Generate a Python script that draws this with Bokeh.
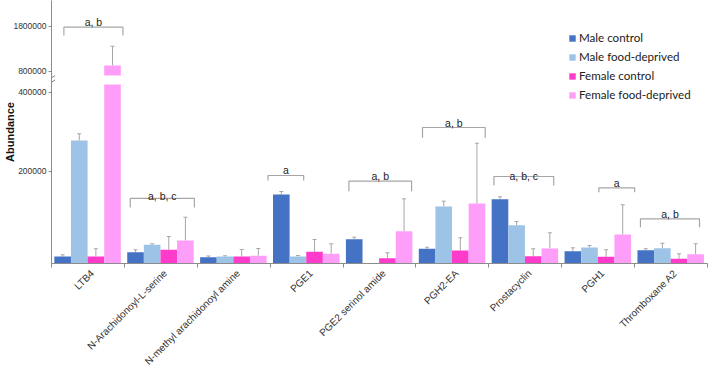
import numpy as np
from math import pi
from bokeh.plotting import figure
from bokeh.models import (ColumnDataSource, FixedTicker, Whisker, TeeHead, Legend,
                          LegendItem, Range1d, Arrow)
from bokeh.core.properties import value
from bokeh.embed import file_html
from bokeh.resources import INLINE

# ---------------- data ----------------
categories = ["LTB4", "N-Arachidonoyl-L-serine", "N-methyl arachidonoyl amine", "PGE1",
              "PGE2 serinol amide", "PGH2-EA", "Prostacyclin", "PGH1", "Thromboxane A2"]
series = ["Male control", "Male food-deprived", "Female control", "Female food-deprived"]

male_control = [15200, 24500, 13700, 149500, 52700, 31900, 139300, 26700, 28800]
male_control_err = [3700, 5200, 2600, 6500, 4300, 3400, 5200, 7300, 3100]
male_fd = [277700, 40500, 15200, 15200, 0, 123500, 83000, 34700, 33200]
male_fd_err = [17000, 2200, 1500, 2100, 0, 11500, 8000, 4300, 10800]
female_control = [15200, 29700, 15200, 25400, 11500, 28200, 15800, 14500, 10200]
female_control_err = [16700, 28800, 15100, 26600, 11700, 27500, 16100, 15200, 10800]
female_fd = [927000, 49800, 16700, 21000, 70000, 130000, 32500, 62800, 20200]
female_fd_err = [428000, 50500, 15800, 21700, 70200, 140900, 34000, 64400, 22500]

y_tick_values = [200000, 400000, 800000, 1800000]
y_tick_labels = ["200000", "400000", "800000", "1800000"]

# significance brackets: group, label, height (abundance)
bracket_groups = [0, 1, 3, 4, 5, 6, 7, 8]
bracket_labels = ["a, b", "a, b, c", "a", "a, b", "a, b", "a, b, c", "a", "a, b"]
bracket_heights = [1777800, 140900, 190700, 178300, 310600, 188500, 164000, 96900]

# ---------------- layout / style ----------------
bracket_span = [(0.17, 0.98), (0.08, 0.96), (-0.03, 0.46), (0.08, 0.94), (0.09, 0.95),
                (0.07, 0.89), (0.51, 1.0), (0.08, 0.89)]
bracket_leg = [8.3, 9, 5, 10, 10.3, 9, 4.4, 8.4]
bracket_text_off = [-5, -2, -5, -5, -5, -1, -5, -5]

colors = ["#4472C4", "#9DC3E6", "#FF3BCB", "#FF9EF8"]
values_all = [male_control, male_fd, female_control, female_fd]
errs_all = [male_control_err, male_fd_err, female_control_err, female_fd_err]

# broken-axis transform (value -> display units)
LOWER_V = [0, 200000, 400000]
LOWER_D = [0, 92.3, 171.3]
LOWER_SLOPE = 79 / 200000
LOWER_CAP_D = 179.0
UPPER_START_D = 188.0
UPPER_REF_V, UPPER_REF_D, UPPER_SLOPE = 800000, 192.3, 45 / 1e6
BREAK_V = 400000 + (LOWER_CAP_D - 171.3) / LOWER_SLOPE


def disp(v):
    if v <= 400000:
        return float(np.interp(v, LOWER_V, LOWER_D))
    if v <= BREAK_V:
        return 171.3 + (v - 400000) * LOWER_SLOPE
    return UPPER_REF_D + (v - UPPER_REF_V) * UPPER_SLOPE


n = len(categories)
BAR_W = 0.228
CENTER = 0.495
LABEL_POS = 0.56
AXIS_GREY = "#8C8C8C"
ERR_GREY = "#A6A6A6"

p = figure(width=708, height=374, x_range=Range1d(0, n), y_range=Range1d(0, 263),
           output_backend="svg", toolbar_location=None,
           min_border_left=51, min_border_right=1, min_border_top=0, min_border_bottom=111)
p.outline_line_color = None
p.xgrid.visible = False
p.ygrid.visible = False
p.background_fill_color = "white"

legend_items = []
for j, (vals, errs, col, name) in enumerate(zip(values_all, errs_all, colors, series)):
    xs = [i + CENTER + (j - 1.5) * BAR_W for i in range(n)]
    low_top = [min(disp(v), LOWER_CAP_D) for v in vals]
    src = ColumnDataSource(dict(x=xs, top=low_top))
    r = p.vbar(x="x", top="top", bottom=0, width=BAR_W, source=src,
               fill_color=col, line_color=None)
    legend_items.append(LegendItem(label=name, renderers=[r]))
    # upper pieces for values beyond the break
    ux = [x for x, v in zip(xs, vals) if v > BREAK_V]
    ut = [disp(v) for v in vals if v > BREAK_V]
    if ux:
        p.vbar(x=ux, top=ut, bottom=UPPER_START_D, width=BAR_W,
               fill_color=col, line_color=None)
    # error bars
    ex = [x for x, v in zip(xs, vals) if v > 0]
    el = [disp(v) for v in vals if v > 0]
    eu = [disp(v + e) for v, e in zip(vals, errs) if v > 0]
    esrc = ColumnDataSource(dict(x=ex, lower=el, upper=eu))
    w = Whisker(source=esrc, base="x", lower="lower", upper="upper", dimension="height",
                line_color=ERR_GREY, line_width=1,
                upper_head=TeeHead(size=4, line_color=ERR_GREY, line_width=1),
                lower_head=None)
    p.add_layout(w)

# brackets
bxs, bys, tx, ty = [], [], [], []
for g, h, (f0, f1), leg in zip(bracket_groups, bracket_heights, bracket_span, bracket_leg):
    d = disp(h)
    x0, x1 = g + f0, g + f1
    bxs.append([x0, x0, x1, x1])
    bys.append([d - leg, d, d, d - leg])
    tx.append((x0 + x1) / 2)
    ty.append(d)
p.multi_line(xs=bxs, ys=bys, line_color=ERR_GREY, line_width=1.2)
p.text(x=tx, y=ty, text=bracket_labels, y_offset=bracket_text_off,
       text_align="center", text_baseline="alphabetic",
       text_font=value("Liberation Sans"), text_font_size="10.5px", text_color="#222222")

# axis break marks
bd = (LOWER_CAP_D + UPPER_START_D) / 2
for off in (-2.2, 2.2):
    p.add_layout(Arrow(end=None, x_start=-0.05, y_start=bd + off - 2.2,
                       x_end=0.05, y_end=bd + off + 2.2,
                       line_color="#808080", line_width=1))

# y axis
ytk = [round(disp(v), 2) for v in y_tick_values]
p.yaxis.ticker = FixedTicker(ticks=ytk, minor_ticks=[])
p.yaxis.major_label_overrides = {t: l for t, l in zip(ytk, y_tick_labels)}
p.yaxis.axis_label = "Abundance"
p.yaxis.axis_label_text_font = "Liberation Sans"
p.yaxis.axis_label_text_font_style = "bold"
p.yaxis.axis_label_text_font_size = "11px"
p.yaxis.axis_label_text_color = "#111111"
p.yaxis.axis_label_standoff = -6
p.yaxis.major_label_text_font = "Liberation Sans"
p.yaxis.major_label_text_font_size = "8.5px"
p.yaxis.major_label_text_color = "#333333"
p.yaxis.major_label_standoff = 2
p.yaxis.major_tick_out = 3
p.yaxis.major_tick_in = 0
p.yaxis.minor_tick_line_color = None
p.yaxis.axis_line_color = AXIS_GREY
p.yaxis.major_tick_line_color = AXIS_GREY

# x axis: labels at group centres, ticks at group boundaries
xtk = [round(i + LABEL_POS, 3) for i in range(n)]
p.xaxis.ticker = FixedTicker(ticks=xtk, minor_ticks=list(range(n + 1)))
p.xaxis.major_label_overrides = {t: c for t, c in zip(xtk, categories)}
p.xaxis.major_label_orientation = pi / 4
p.xaxis.major_label_text_font = "Liberation Sans"
p.xaxis.major_label_text_font_size = "10px"
p.xaxis.major_label_text_color = "#333333"
p.xaxis.major_label_standoff = 4
p.xaxis.major_tick_line_color = None
p.xaxis.major_tick_out = 0
p.xaxis.minor_tick_line_color = AXIS_GREY
p.xaxis.minor_tick_out = 4
p.xaxis.minor_tick_in = 0
p.xaxis.axis_line_color = AXIS_GREY

legend = Legend(items=legend_items, location=(517, 161), orientation="vertical",
                background_fill_alpha=0, border_line_color=None, padding=0, margin=0,
                spacing=4, glyph_width=8, glyph_height=8, label_standoff=3,
                label_height=15, label_text_font="Lato", label_text_font_size="11.6px",
                label_text_color="#222222")
p.add_layout(legend)

open("out.html", "w").write(file_html(p, INLINE))
